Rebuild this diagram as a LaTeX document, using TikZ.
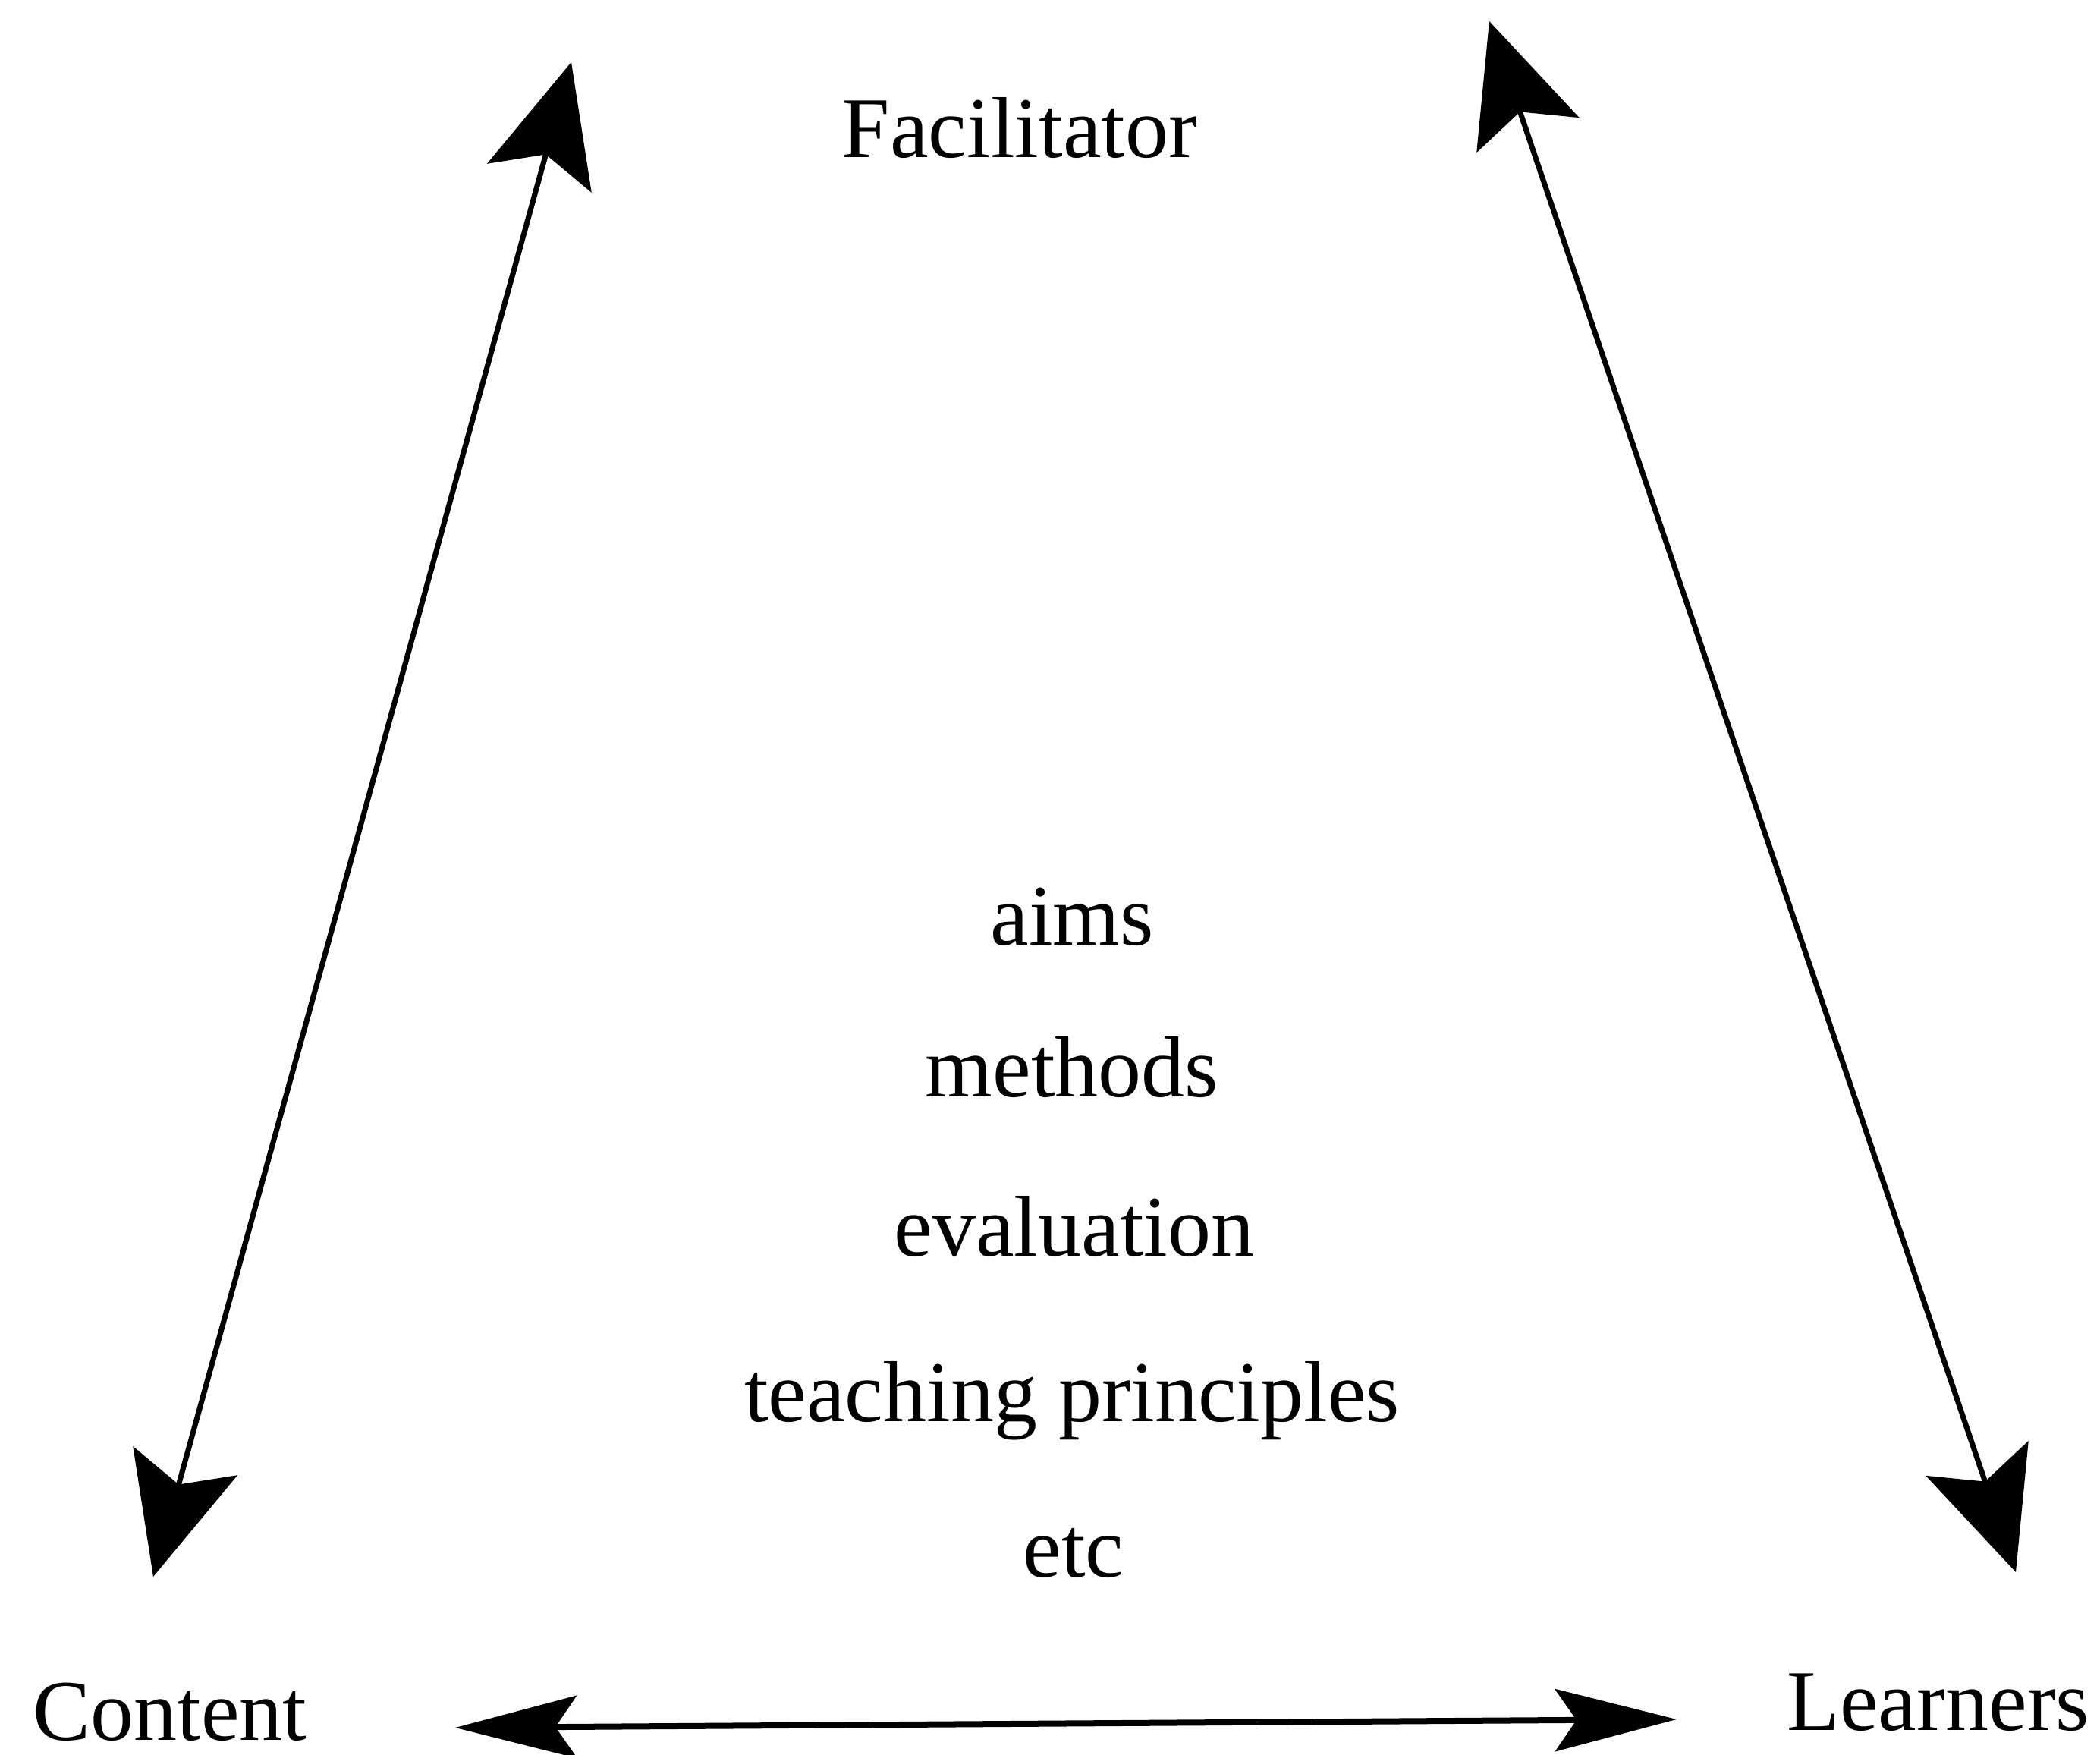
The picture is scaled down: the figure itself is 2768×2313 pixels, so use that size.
\documentclass[tikz,border=0pt]{standalone}
\usepackage{fontspec}
\setmainfont{Liberation Serif}
\usetikzlibrary{arrows.meta}
\begin{document}
\begin{tikzpicture}[x=0.01cm,y=-0.01cm,
  lbl/.style={anchor=base,inner sep=0pt,font=\fontsize{32.4pt}{38pt}\selectfont},
  diag/.style={line width=0.07cm,{Stealth[length=1.58cm,width=1.42cm,inset=0.32cm]}-{Stealth[length=1.58cm,width=1.42cm,inset=0.32cm]}},
  horiz/.style={line width=0.08cm,{Stealth[length=1.6cm,width=0.82cm,inset=0.28cm]}-{Stealth[length=1.6cm,width=0.82cm,inset=0.28cm]}}]
\useasboundingbox (0,0) rectangle (2768,2313);
% labels
\node[lbl] (fac) at (1344,208) {Facilitator};
\node[lbl] (aims) at (1413,1246) {aims};
\node[lbl] (methods) at (1413,1446) {methods};
\node[lbl] (eval) at (1416,1656) {evaluation};
\node[lbl] (teach) at (1413,1873) {teaching principles};
\node[lbl] (etc) at (1415,2078) {etc};
\node[lbl] (content) at (224,2293) {Content};
\node[lbl] (learners) at (2555,2280) {Learners};
% arrow ends
\coordinate (lt) at (753,82);
\coordinate (lb) at (202,2078);
\coordinate (rt) at (1963,28);
\coordinate (rb) at (2657,2072);
\coordinate (hl) at (600,2277);
\coordinate (hr) at (2210,2266);
% connectors
\draw[diag] (lt) -- (lb);
\draw[diag] (rt) -- (rb);
\draw[horiz] (hl) -- (hr);
\end{tikzpicture}
\end{document}
